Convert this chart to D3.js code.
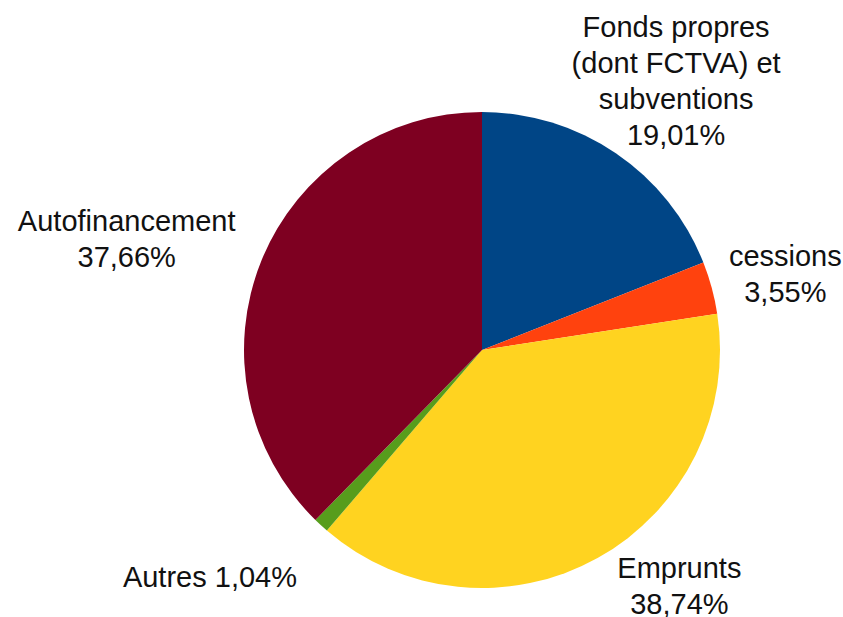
<!DOCTYPE html>
<html>
<head>
<meta charset="utf-8">
<script src="https://cdnjs.cloudflare.com/ajax/libs/d3/7.8.5/d3.min.js"></script>
<style>
  body { margin: 0; background: #fff; }
  text { font-family: "Liberation Sans", Arial, sans-serif; font-size: 29px; fill: #111; }
</style>
</head>
<body>
<div class="chart"></div>
<script>
  var width = 843;
  var height = 617;

  // data, clockwise from 12 o'clock
  var labels = [["Fonds propres", "(dont FCTVA) et", "subventions"], ["cessions"], ["Emprunts"], ["Autres"], ["Autofinancement"]];
  var values = [19.01, 3.55, 38.74, 1.04, 37.66];
  var valueText = ["19,01%", "3,55%", "38,74%", "1,04%", "37,66%"];
  var colors = ["#004586", "#ff420e", "#ffd320", "#579d1c", "#7e0021"];

  // little hand nudges for the label blocks (layout only)
  var nudge = [[-12, 7], [-4, 2], [40, -25], [-36, 21], [-12, 2]];

  var cx = 482, cy = 350, radius = 238;
  var lineH = 36;

  var svg = d3.select(".chart")
    .append("svg")
    .attr("width", width)
    .attr("height", height);

  var pie = d3.pie().sort(null).value(function(d){ return d; });
  var arc = d3.arc().innerRadius(0).outerRadius(radius);
  var arcs = pie(values);

  var g = svg.append("g").attr("transform", "translate(" + cx + "," + cy + ")");

  g.selectAll("path")
    .data(arcs)
    .enter()
    .append("path")
    .attr("d", arc)
    .attr("fill", function(d, i){ return colors[i]; });

  // labels: the "Autres" one sits on one line
  var blocks = g.selectAll(".lbl")
    .data(arcs)
    .enter()
    .append("text")
    .attr("class", "lbl")
    .attr("text-anchor", "middle");

  blocks.each(function(d, i){
    var t = d3.select(this);
    var lines = i == 3 ? [labels[i][0] + " " + valueText[i]] : labels[i].concat([valueText[i]]);
    lines.forEach(function(s, k){
      t.append("tspan").attr("x", 0).attr("dy", k == 0 ? 0 : lineH).text(s);
    });
    var bb = this.getBBox();
    var mid = (d.startAngle + d.endAngle) / 2;
    var s = Math.sin(mid), c = Math.cos(mid);
    var px = 262 * s, py = -262 * c;
    var halfW = bb.width / 2, halfH = lines.length * lineH / 2;
    var bx = px + s * halfW + nudge[i][0];
    var by = py - c * halfH + nudge[i][1];
    // first baseline so the block is centred on by
    var firstBase = by - halfH + lineH * 0.78;
    t.attr("transform", "translate(" + bx + "," + firstBase + ")");
  });
</script>
</body>
</html>
